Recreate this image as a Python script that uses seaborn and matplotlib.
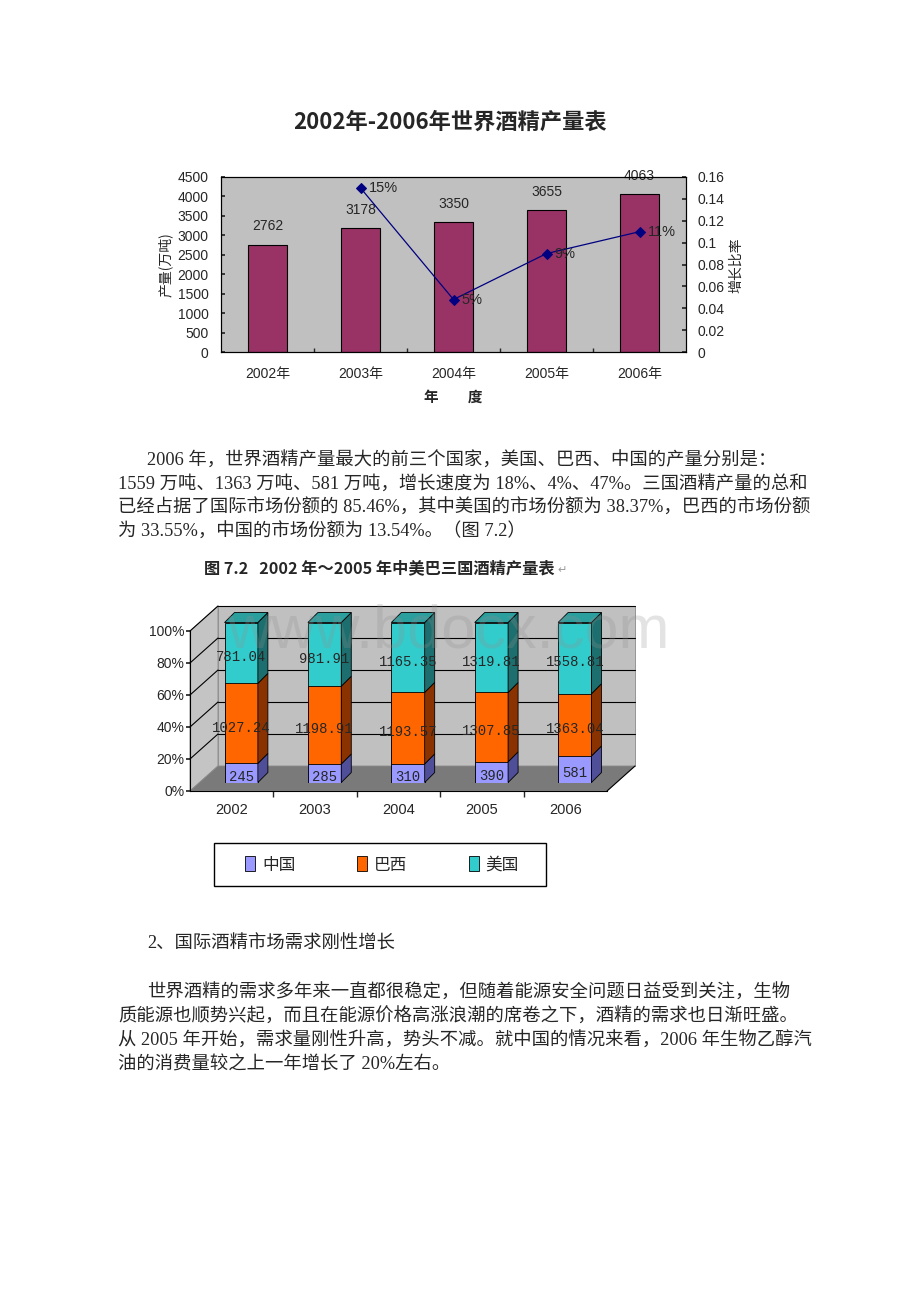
import numpy as np
import matplotlib.pyplot as plt
import seaborn as sns
from matplotlib.patches import Polygon, Patch, Rectangle
from matplotlib.ticker import FuncFormatter

# chart 1: world output
years = ['2002年', '2003年', '2004年', '2005年', '2006年']
output = [2762, 3178, 3350, 3655, 4063]
growth_years = ['2003年', '2004年', '2005年', '2006年']
growth = [0.15, 0.048, 0.09, 0.11]
growth_text = ['15%', '5%', '9%', '11%']

# chart 2: china / brazil / usa
years2 = ['2002', '2003', '2004', '2005', '2006']
countries = ['中国', '巴西', '美国']
china = [245, 285, 310, 390, 581]
brazil = [1027.24, 1198.91, 1193.57, 1307.85, 1363.04]
usa = [781.04, 981.91, 1165.35, 1319.81, 1558.81]

para1 = ['2006 年，世界酒精产量最大的前三个国家，美国、巴西、中国的产量分别是：',
         '1559 万吨、1363 万吨、581 万吨，增长速度为 18%、4%、47%。三国酒精产量的总和',
         '已经占据了国际市场份额的 85.46%，其中美国的市场份额为 38.37%，巴西的市场份额',
         '为 33.55%，中国的市场份额为 13.54%。（图 7.2）']
heading2 = '2、国际酒精市场需求刚性增长'
para2 = ['世界酒精的需求多年来一直都很稳定，但随着能源安全问题日益受到关注，生物',
         '质能源也顺势兴起，而且在能源价格高涨浪潮的席卷之下，酒精的需求也日渐旺盛。',
         '从 2005 年开始，需求量刚性升高，势头不减。就中国的情况来看，2006 年生物乙醇汽',
         '油的消费量较之上一年增长了 20%左右。']

sns.set_theme(style='white')
plt.rcParams['font.family'] = ['Liberation Sans', 'Noto Sans CJK SC', 'DejaVu Sans']
CJK = ['Noto Sans CJK SC', 'DejaVu Sans']
BODY = ['Liberation Serif', 'Noto Sans CJK SC', 'DejaVu Sans']

W, H = 920, 1302
fig = plt.figure(figsize=(W / 100, H / 100), dpi=100)


def box(x0, y0, x1, y1):
    return fig.add_axes([x0 / W, 1 - y1 / H, (x1 - x0) / W, (y1 - y0) / H])


def put(x, y, s, **kw):
    kw.setdefault('va', 'center')
    return fig.text(x / W, 1 - y / H, s, **kw)


# ---- chart 1
put(450, 122, '2002年-2006年世界酒精产量表', ha='center', fontsize=16,
    fontweight='bold', family=CJK)
ax1 = box(221, 177, 686, 352)
ax1.set_facecolor('#C0C0C0')
sns.barplot(x=years, y=output, color='#993366', saturation=1, width=0.42,
            edgecolor='black', linewidth=0.8, ax=ax1)
ax1.bar_label(ax1.containers[0], padding=8, fontsize=10)
ax1.set_ylim(0, 4500)
ax1.set_yticks(range(0, 4501, 500))
ax1.set_xticks([0.5, 1.5, 2.5, 3.5], minor=True)
ax1.set_xlabel('')
ax1.set_ylabel('')
ax1.tick_params(axis='y', left=True, direction='in', length=3, pad=9, labelsize=10)
ax1.tick_params(axis='x', which='major', length=0, pad=11, labelsize=10)
ax1.tick_params(axis='x', which='minor', bottom=True, direction='in', length=3)

ax2 = ax1.twinx()
gpos = [years.index(y) for y in growth_years]
sns.lineplot(x=gpos, y=growth, ax=ax2, color='#000080', marker='D', markersize=5,
             markeredgecolor='#000080', linewidth=0.9)
for x, y, t in zip(gpos, growth, growth_text):
    ax2.annotate(t, (x, y), xytext=(6, 0), textcoords='offset points',
                 va='center', fontsize=10.5)
ax2.set_ylim(0, 0.16)
ax2.set_yticks(np.arange(0, 0.161, 0.02))
ax2.yaxis.set_major_formatter(FuncFormatter(lambda v, _: f'{v:g}'))
ax2.tick_params(axis='y', right=True, direction='in', length=3, pad=8, labelsize=10)
ax2.set_ylabel('')
ax1.set_xlim(-0.5, 4.5)
for a in (ax1, ax2):
    for s in a.spines.values():
        s.set_color('black')
        s.set_linewidth(0.8)

put(165, 265, '产量(万吨)', ha='center', rotation=90, fontsize=10, family=CJK)
put(736, 265, '增长比率', ha='center', rotation=90, fontsize=10, family=CJK)
put(453, 397, '年　　度', ha='center', fontsize=10.5, fontweight='bold', family=CJK)

# ---- text
for i, line in enumerate(para1):
    put(147 if i == 0 else 118, 461 + i * 23.5, line, fontsize=13.2, family=BODY)

put(204, 568, '图 7.2   2002 年～2005 年中美巴三国酒精产量表', fontsize=11.7,
    fontweight='bold', family=CJK)
put(557, 570, '↵', fontsize=8, color='#999999', family=CJK)

# ---- chart 2 (3d look)
DX, DY = 28 / 83.4, 25 / 1.6          # wall depth in data units
BW, BDX, BDY = 0.4, 10 / 83.4, 10 / 1.6  # bar width / depth
axf = box(190, 631, 607, 791)
axf.set_xlim(-0.5, 4.5)
axf.set_ylim(0, 100)
axf.patch.set_alpha(0)
walls = [
    ([(-0.5 + DX, DY), (4.5 + DX, DY), (4.5 + DX, 100 + DY), (-0.5 + DX, 100 + DY)], '#C0C0C0'),
    ([(-0.5, 0), (-0.5 + DX, DY), (-0.5 + DX, 100 + DY), (-0.5, 100)], '#C4C4C4'),
    ([(-0.5, 0), (4.5, 0), (4.5 + DX, DY), (-0.5 + DX, DY)], '#7A7A7A'),
]
for pts, c in walls:
    axf.add_patch(Polygon(pts, closed=True, facecolor=c, edgecolor='#8a8a8a',
                          linewidth=0.6, clip_on=False, zorder=0))
for v in range(20, 101, 20):
    axf.plot([-0.5 + DX, 4.5 + DX], [v + DY, v + DY], color='black', lw=0.8,
             clip_on=False, zorder=1)
    axf.plot([-0.5, -0.5 + DX], [v, v + DY], color='black', lw=0.8,
             clip_on=False, zorder=1)
axf.plot([4.5, 4.5 + DX], [0, DY], color='black', lw=0.8, clip_on=False, zorder=1)
for s in ['top', 'right']:
    axf.spines[s].set_visible(False)
for s in ['left', 'bottom']:
    axf.spines[s].set_color('black')
    axf.spines[s].set_linewidth(0.8)
axf.set_yticks(range(0, 101, 20))
axf.yaxis.set_major_formatter(FuncFormatter(lambda v, _: f'{v:.0f}%'))
axf.set_xticks(range(len(years2)))
axf.set_xticklabels(years2)
axf.set_xticks([0.5, 1.5, 2.5, 3.5], minor=True)
axf.tick_params(axis='y', left=True, direction='out', length=3, pad=1, labelsize=10)
axf.tick_params(axis='x', which='major', length=0, pad=9, labelsize=10.5)
axf.tick_params(axis='x', which='minor', bottom=True, direction='out', length=4)

tot = np.array(china) + np.array(brazil) + np.array(usa)
p_cn = np.array(china) / tot * 100
p_br = np.array(brazil) / tot * 100
p_us = np.array(usa) / tot * 100

axb = box(190 + 9.5, 631 - 8.5, 607 + 9.5, 791 - 8.5)
axb.patch.set_alpha(0)
front = ['#9999FF', '#FF6600', '#33CCCC']
side = ['#4F4F99', '#8A3300', '#1D6F6F']
top_c = '#2B9E9E'
sns.barplot(x=years2, y=p_cn + p_br + p_us, color=front[2], saturation=1, width=BW,
            edgecolor='black', linewidth=0.6, ax=axb)
sns.barplot(x=years2, y=p_cn + p_br, color=front[1], saturation=1, width=BW,
            edgecolor='black', linewidth=0.6, ax=axb)
sns.barplot(x=years2, y=p_cn, color=front[0], saturation=1, width=BW,
            edgecolor='black', linewidth=0.6, ax=axb)
axb.set_xlim(-0.5, 4.5)
axb.set_ylim(0, 100)
axb.axis('off')
for i in range(len(years2)):
    segs = [(0, p_cn[i]), (p_cn[i], p_cn[i] + p_br[i]), (p_cn[i] + p_br[i], 100)]
    xr = i + BW / 2
    for (lo, hi), c in zip(segs, side):
        axb.add_patch(Polygon([(xr, lo), (xr + BDX, lo + BDY), (xr + BDX, hi + BDY), (xr, hi)],
                              closed=True, facecolor=c, edgecolor='black', linewidth=0.6,
                              clip_on=False, zorder=3))
    xl = i - BW / 2
    axb.add_patch(Polygon([(xl, 100), (xr, 100), (xr + BDX, 100 + BDY), (xl + BDX, 100 + BDY)],
                          closed=True, facecolor=top_c, edgecolor='black', linewidth=0.6,
                          clip_on=False, zorder=3))
    labels = [f'{china[i]}', f'{brazil[i]:.2f}', f'{usa[i]:.2f}']
    for (lo, hi), t in zip(segs, labels):
        axb.annotate(t, (i, (lo + hi) / 2), xytext=(0, -3), textcoords='offset points',
                     ha='center', va='center', fontsize=10, family='Liberation Mono',
                     zorder=5)

# legend box
handles = [Patch(facecolor=c, edgecolor='black', linewidth=0.6) for c in front]
fig.legend(handles, countries, loc='center', ncol=3,
           bbox_to_anchor=(382 / W, 1 - 865 / H), frameon=False,
           prop={'family': CJK, 'size': 12}, handlelength=0.6, handleheight=1.0,
           handletextpad=0.4, columnspacing=3.7, borderaxespad=0)
fig.add_artist(Rectangle((214 / W, 1 - 886 / H), 332 / W, 43 / H, transform=fig.transFigure,
                         fill=False, edgecolor='black', linewidth=1.0))

put(448, 632, 'www.bdocx.com', ha='center', fontsize=44, color='#909090', alpha=0.25,
    family='Liberation Sans', zorder=10)

# ---- text 2
put(147, 944, heading2, fontsize=13.2, family=BODY)
for i, line in enumerate(para2):
    put(147 if i == 0 else 118, 993 + i * 24, line, fontsize=13.2, family=BODY)

fig.savefig('out.png', dpi=100)
